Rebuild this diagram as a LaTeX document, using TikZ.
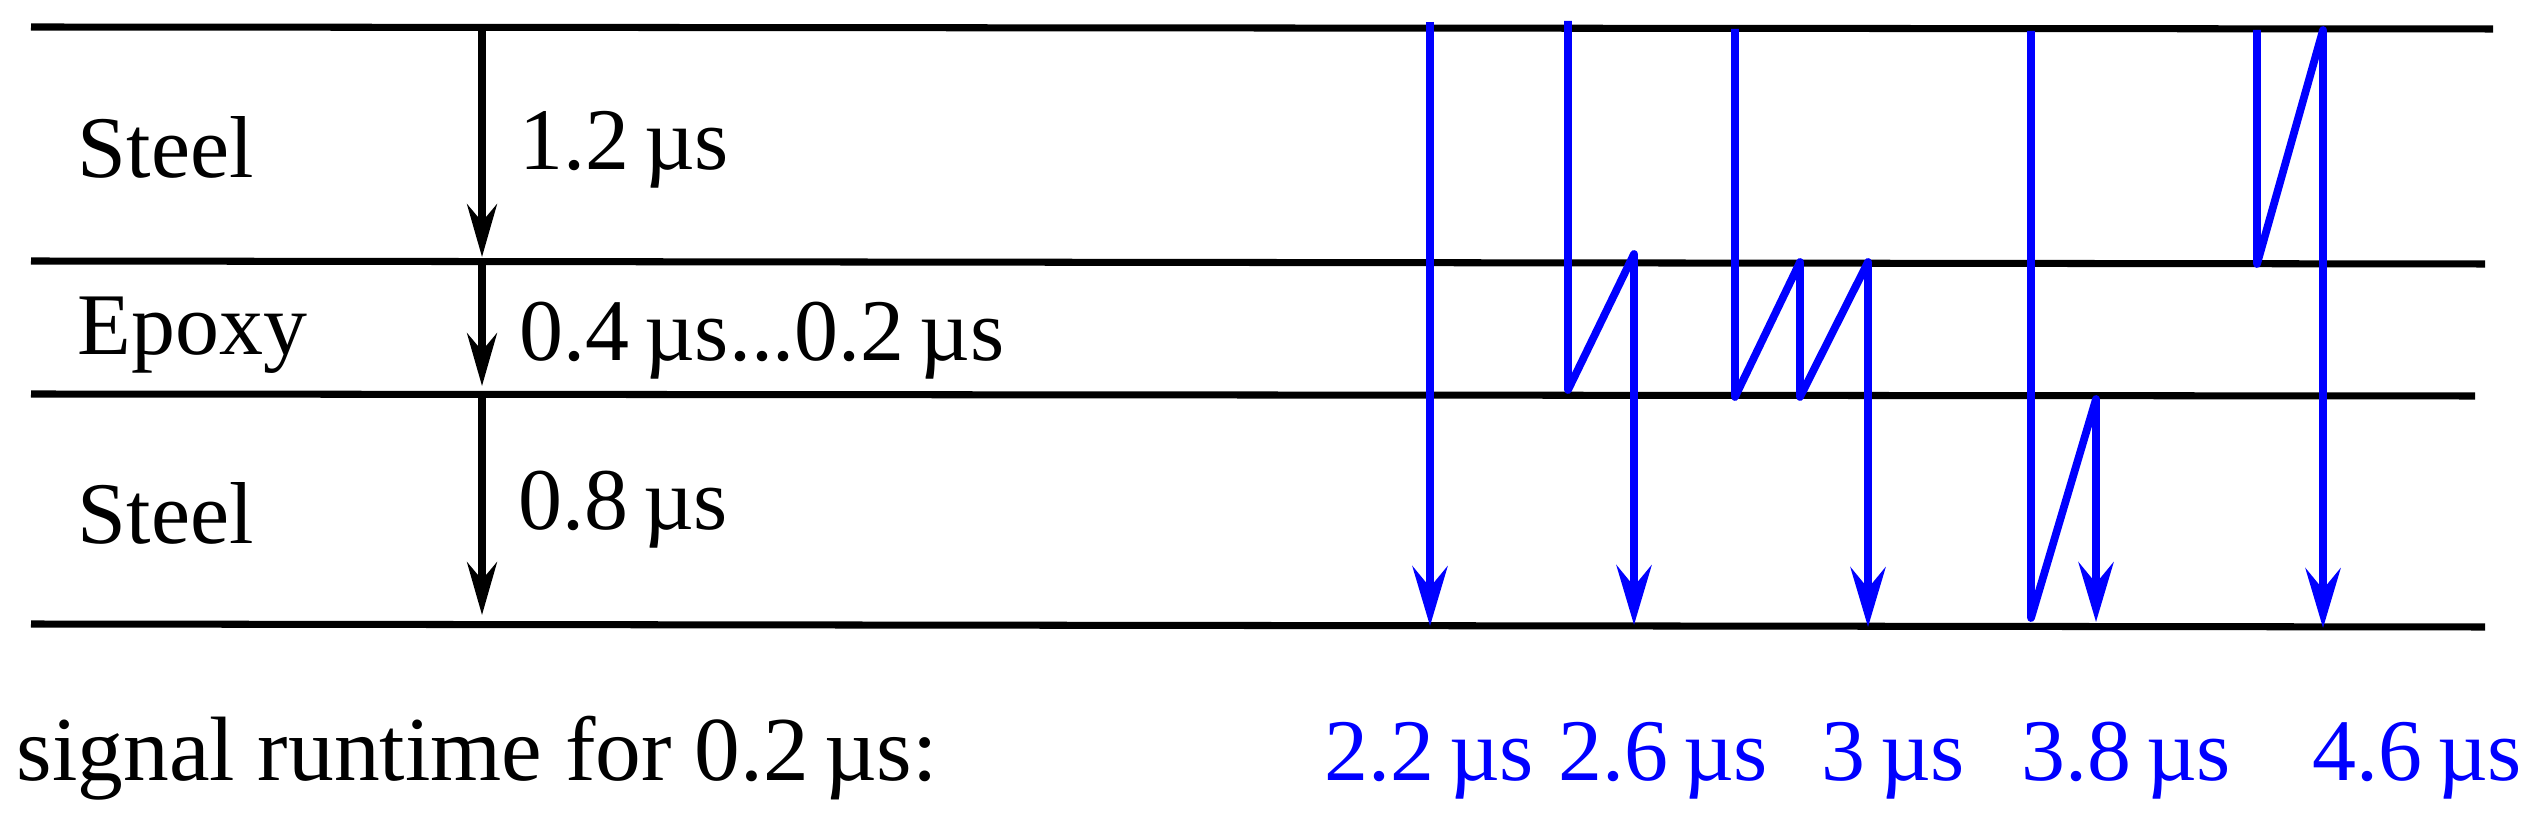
\documentclass[tikz,border=0pt]{standalone}
\usepackage{fontspec}
\setmainfont{Liberation Serif}
\usepackage{tikz}
\usetikzlibrary{arrows.meta}
\tikzstyle{layer} = [line width=2pt]
\tikzstyle{arrow} = [line width=2pt,-{Stealth[length=15pt,width=8.5pt,inset=5pt]}]
\tikzstyle{signal} = [line width=2.2pt,blue,line join=round,-{Stealth[length=17pt,width=10pt,inset=6pt]}]
\tikzstyle{label} = [anchor=base west, inner sep=0pt, font=\fontsize{25}{30}\selectfont]

\begin{document}
\begin{tikzpicture}[x=0.01cm,y=-0.01cm]
        \useasboundingbox (0,0) rectangle (2531,825);
        % layer boundaries
        \coordinate (top-l) at (31,27);    \coordinate (top-r) at (2493,29);
        \coordinate (mid1-l) at (31,261);  \coordinate (mid1-r) at (2485,264);
        \coordinate (mid2-l) at (31,394);  \coordinate (mid2-r) at (2475,396);
        \coordinate (bot-l) at (31,624);   \coordinate (bot-r) at (2485,627);
        \draw [layer] (top-l) -- (top-r);
        \draw [layer] (mid1-l) -- (mid1-r);
        \draw [layer] (mid2-l) -- (mid2-r);
        \draw [layer] (bot-l) -- (bot-r);

        \node (steel-top) [label] at (77,178) {Steel};
        \node (epoxy) [label] at (77,355) {Epoxy};
        \node (steel-bot) [label] at (77,544) {Steel};

        \coordinate (run0) at (482,28);
        \coordinate (run1) at (482,257);
        \coordinate (run1b) at (482,262);
        \coordinate (run2) at (482,386);
        \coordinate (run2b) at (482,395);
        \coordinate (run3) at (482,615);
        \draw [arrow] (run0) -- (run1);
        \draw [arrow] (run1b) -- (run2);
        \draw [arrow] (run2b) -- (run3);

        \node (t-steel-top) [label] at (519,170) {1.2\,µs};
        \node (t-epoxy) [label] at (519,361) {0.4\,µs...0.2\,µs};
        \node (t-steel-bot) [label] at (518,530) {0.8\,µs};

        % echoes
        \draw [signal] (1430,22) -- (1430,626);
        \draw [signal] (1568,21) -- (1568,390) -- (1634,254) -- (1634,625);
        \draw [signal] (1735,29) -- (1735,397) -- (1800,262) -- (1800,397) -- (1868,262) -- (1868,627);
        \draw [signal] (2031,31) -- (2031,618) -- (2096,399) -- (2096,622);
        \draw [signal] (2257,30) -- (2257,264) -- (2323,30) -- (2323,628);

        \node (runtime) [label, font=\fontsize{26}{30}\selectfont] at (16,780) {signal runtime for 0.2\,µs:};
        \node (echo1) [label, blue] at (1324,780) {2.2\,µs};
        \node (echo2) [label, blue] at (1558,780) {2.6\,µs};
        \node (echo3) [label, blue] at (1821,780) {3\,µs};
        \node (echo4) [label, blue] at (2021,780) {3.8\,µs};
        \node (echo5) [label, blue] at (2312,780) {4.6\,µs};
    \end{tikzpicture}
\end{document}
